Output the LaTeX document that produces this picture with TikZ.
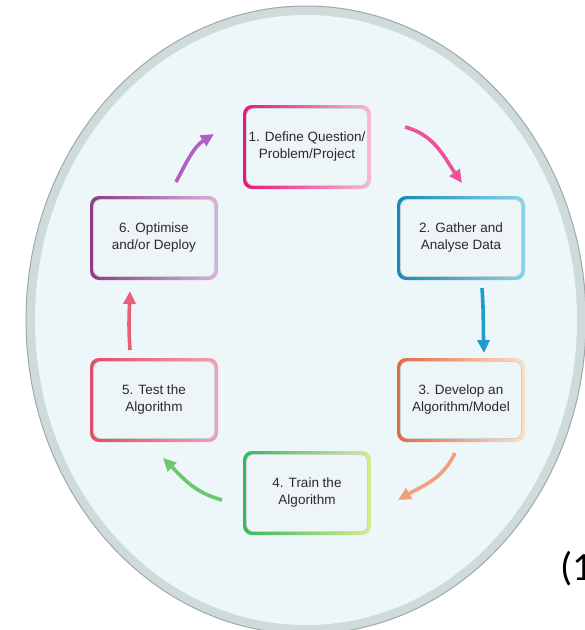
\documentclass[tikz,border=0pt]{standalone}
\usepackage{fontspec}
\setmainfont{Liberation Sans}
\newfontfamily\calfont{Carlito}
\usetikzlibrary{arrows.meta}
\definecolor{ringfill}{HTML}{CFDBDB}
\definecolor{ringline}{HTML}{9FA9A9}
\definecolor{discfill}{HTML}{EDF7F9}
\definecolor{innerfill}{HTML}{EEF5F7}
\definecolor{innerline}{HTML}{C9D2D6}
\definecolor{txt}{HTML}{2A2A2A}
\definecolor{aA}{HTML}{E8157C}\definecolor{aB}{HTML}{F9B9D3}
\definecolor{bA}{HTML}{1A88B8}\definecolor{bB}{HTML}{8AD4EA}
\definecolor{cA}{HTML}{E06A44}\definecolor{cB}{HTML}{FBE0C8}
\definecolor{dA}{HTML}{36B860}\definecolor{dB}{HTML}{D8EC8C}
\definecolor{eA}{HTML}{E24A66}\definecolor{eB}{HTML}{F3A2B2}
\definecolor{fA}{HTML}{8E3A8A}\definecolor{fB}{HTML}{DCB0DC}
\definecolor{arPink}{HTML}{F0509A}
\definecolor{arBlue}{HTML}{1F9CCC}
\definecolor{arOrange}{HTML}{F4A07C}
\definecolor{arGreen}{HTML}{6CC86C}
\definecolor{arRed}{HTML}{E86078}
\definecolor{arPurple}{HTML}{B060C0}
\tikzset{
  stagebox/.style={rounded corners=9pt, minimum width=128pt, minimum height=84pt,
    inner sep=0pt, align=center, text=txt,
    font=\fontsize{13.5}{17}\selectfont,
    path picture={
      \fill[innerfill, draw=innerline, line width=0.8pt, rounded corners=7pt]
        ([shift={(3.5pt,-3.5pt)}]path picture bounding box.north west) rectangle
        ([shift={(-3.5pt,3.5pt)}]path picture bounding box.south east);
    }},
  cyc/.style={line width=3.6pt, -{Triangle[length=13pt,width=12pt]}}
}
\begin{document}
\begin{tikzpicture}[x=1pt,y=-1pt]
\useasboundingbox (0,0) rectangle (585,630);
\fill[white] (0,0) rectangle (585,630);
% disc
\fill[ringfill, draw=ringline, line width=1pt] (306,320) ellipse [x radius=280, y radius=314];
\fill[discfill] (306,320) ellipse [x radius=271, y radius=305];
% boxes
\node[stagebox, left color=aA, right color=aB] (b1) at (307,147) {1. Define Question/\\Problem/Project};
\node[stagebox, left color=bA, right color=bB] (b2) at (461,238) {2. Gather and\\Analyse Data};
\node[stagebox, left color=cA, right color=cB] (b3) at (461,400) {3. Develop an\\Algorithm/Model};
\node[stagebox, left color=dA, right color=dB] (b4) at (307,493) {4. Train the\\Algorithm};
\node[stagebox, left color=eA, right color=eB] (b5) at (154,400) {5. Test the\\Algorithm};
\node[stagebox, left color=fA, right color=fB] (b6) at (154,238) {6. Optimise\\and/or Deploy};
% arrow ends
\coordinate (p1s) at (405,127); \coordinate (p1e) at (462,183);
\coordinate (p2s) at (482,288); \coordinate (p2e) at (484,353);
\coordinate (p3s) at (455,453); \coordinate (p3e) at (398,500);
\coordinate (p4s) at (222,500); \coordinate (p4e) at (163,458);
\coordinate (p5s) at (130,350); \coordinate (p5e) at (130,291);
\coordinate (p6s) at (176,182); \coordinate (p6e) at (214,134);
\draw[cyc, arPink]   (p1s) to[out=-15, in=125] (p1e);
\draw[cyc, arBlue]   (p2s) to[out=-86, in=92] (p2e);
\draw[cyc, arOrange] (p3s) to[out=-115, in=30] (p3e);
\draw[cyc, arGreen]  (p4s) to[out=165, in=-45] (p4e);
\draw[cyc, arRed]    (p5s) to[out=94, in=-92] (p5e);
\draw[cyc, arPurple] (p6s) to[out=62, in=-148] (p6e);
% cut-off label
\node[anchor=west, inner sep=0pt, font=\calfont\fontsize{40}{46}\selectfont] (lbl) at (560,569) {(1};
\end{tikzpicture}
\end{document}
